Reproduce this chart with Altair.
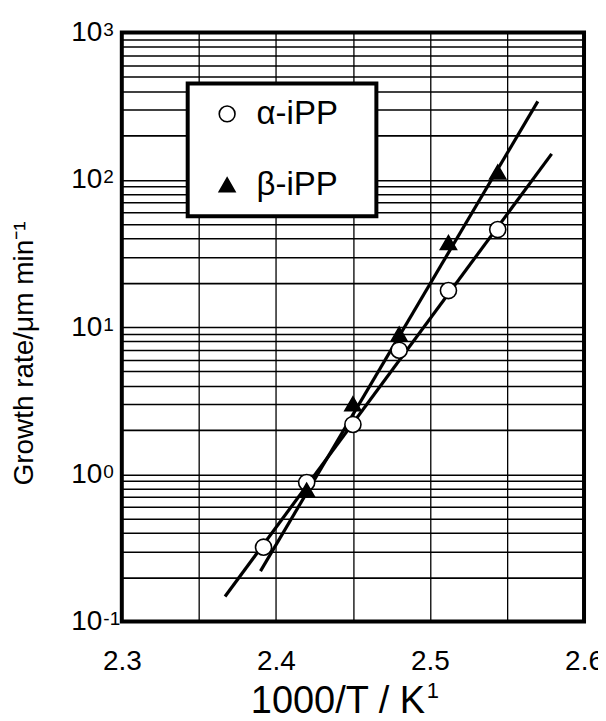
import math
import altair as alt
import pandas as pd

# ---- data ----
series_names = ["α-iPP", "β-iPP"]

x_alpha = [2.392, 2.420, 2.450, 2.480, 2.512, 2.544]
y_alpha = [0.32, 0.88, 2.18, 6.96, 17.7, 45.9]

x_beta = [2.420, 2.450, 2.480, 2.512, 2.544]
y_beta = [0.78, 3.01, 8.95, 37.5, 113.0]

# fitted straight lines (end points)
fit_alpha_x = [2.367, 2.579]
fit_alpha_y = [0.148, 150.0]
fit_beta_x = [2.390, 2.570]
fit_beta_y = [0.22, 341.0]

# axis ticks / labels
x_grid_values = [2.3, 2.35, 2.4, 2.45, 2.5, 2.55, 2.6]
x_label_values = [2.3, 2.4, 2.5, 2.6]
x_tick_labels = ["2.3", "2.4", "2.5", "2.6"]

y_grid_values = [m * 10.0 ** e for e in range(-1, 3) for m in range(1, 10)] + [1000.0]
y_label_values = [0.1, 1.0, 10.0, 100.0, 1000.0]
y_label_base = ["10", "10", "10", "10", "10"]
y_label_exponents = ["-1", "0", "1", "2", "3"]

x_title = "1000/T / K"
x_title_sup = "1"
y_title = "Growth rate/μm min⁻¹"

FONT = "Liberation Sans"

# ---- tables ----
pts = pd.DataFrame(
    {"x": x_alpha + x_beta,
     "y": y_alpha + y_beta,
     "series": [series_names[0]] * len(x_alpha) + [series_names[1]] * len(x_beta)}
)
fits = pd.DataFrame(
    {"x": fit_alpha_x + fit_beta_x,
     "y": fit_alpha_y + fit_beta_y,
     "series": [series_names[0]] * 2 + [series_names[1]] * 2}
)


def label_expr(values, labels, log=False):
    parts = []
    for v, l in zip(values, labels):
        if log:
            parts.append(f"abs(log(datum.value)/LN10 - ({math.log10(v)})) < 0.001 ? '{l}'")
        else:
            parts.append(f"abs(datum.value - {v}) < 0.0001 ? '{l}'")
    return " : ".join(parts) + " : ''"


x_scale = alt.Scale(domain=[2.3, 2.6], nice=False, zero=False)
y_scale = alt.Scale(type="log", domain=[0.1, 1000], nice=False)

# main axes (on the points layer)
x_main = alt.X(
    "x:Q", scale=x_scale,
    axis=alt.Axis(
        orient="bottom", values=x_grid_values, grid=True,
        labelExpr=label_expr(x_label_values, x_tick_labels),
        title=x_title, titleX=216, titleY=91, titleAlign="center",
        titleBaseline="alphabetic", titleFontSize=38,
        labelPadding=26, gridWidth=1.3,
    ),
)
y_main = alt.Y(
    "y:Q", scale=y_scale,
    axis=alt.Axis(
        orient="left", values=y_grid_values, grid=True,
        labelExpr=label_expr(y_label_values, y_label_base, log=True),
        labelPadding=20, gridWidth=1.6,
        title=y_title, titleAngle=270, titleX=-89, titleY=321,
        titleAlign="center", titleBaseline="alphabetic", titleFontSize=28,
    ),
)

# secondary axes (on the line layer): superscripts
x_sup = alt.X(
    "x:Q", scale=x_scale,
    axis=alt.Axis(
        orient="bottom", labels=False, grid=False,
        title=x_title_sup, titleX=305, titleY=76, titleAlign="left",
        titleBaseline="alphabetic", titleFontSize=22,
    ),
)
y_sup = alt.Y(
    "y:Q", scale=y_scale,
    axis=alt.Axis(
        orient="left", values=y_label_values, grid=False,
        labelExpr=label_expr(y_label_values, y_label_exponents, log=True),
        labelAlign="left", labelPadding=19, labelFontSize=19,
        labelBaseline="top", labelOffset=-12, title=None,
    ),
)

legend = alt.Legend(
    orient="none", legendX=66, legendY=51, title=None,
    labelFontSize=33, symbolSize=250, padding=14, rowPadding=37,
    symbolOffset=9, labelOffset=13,
    labelExpr="datum.label + '\u2800'",
    strokeColor="black", fillColor="white",
    symbolStrokeWidth=1.6,
)

lines = alt.Chart(fits).mark_line(color="black", strokeWidth=3.2).encode(
    x=x_sup, y=y_sup, detail="series:N"
)

points = alt.Chart(pts).mark_point(
    strokeWidth=1.6, opacity=1, size=260
).encode(
    x=x_main,
    y=y_main,
    shape=alt.Shape("series:N",
                    scale=alt.Scale(domain=series_names, range=["circle", "triangle-up"]),
                    legend=legend),
    fill=alt.Fill("series:N",
                  scale=alt.Scale(domain=series_names, range=["white", "black"]),
                  legend=legend),
    stroke=alt.Stroke("series:N",
                      scale=alt.Scale(domain=series_names, range=["black", "black"]),
                      legend=legend),
)

chart = (
    alt.layer(lines, points)
    .resolve_scale(x="independent", y="independent")
    .properties(
        width=463, height=590,
        autosize=alt.AutoSizeParams(type="none"),
        padding={"left": 114, "top": 24, "right": 14, "bottom": 99},
    )
    .configure(font=FONT)
    .configure_view(stroke="black", strokeWidth=4)
    .configure_axis(
        gridColor="black", gridOpacity=1,
        domain=False, ticks=False,
        labelFont=FONT, labelFontSize=28, labelColor="black",
        labelOverlap=False, labelFlush=False, labelBound=False,
        titleFont=FONT, titleColor="black", titleFontWeight="normal",
    )
    .configure_legend(labelFont=FONT, labelColor="black", strokeWidth=4)
)

chart.save("out.html", embed_options={"renderer": "svg", "actions": False})
